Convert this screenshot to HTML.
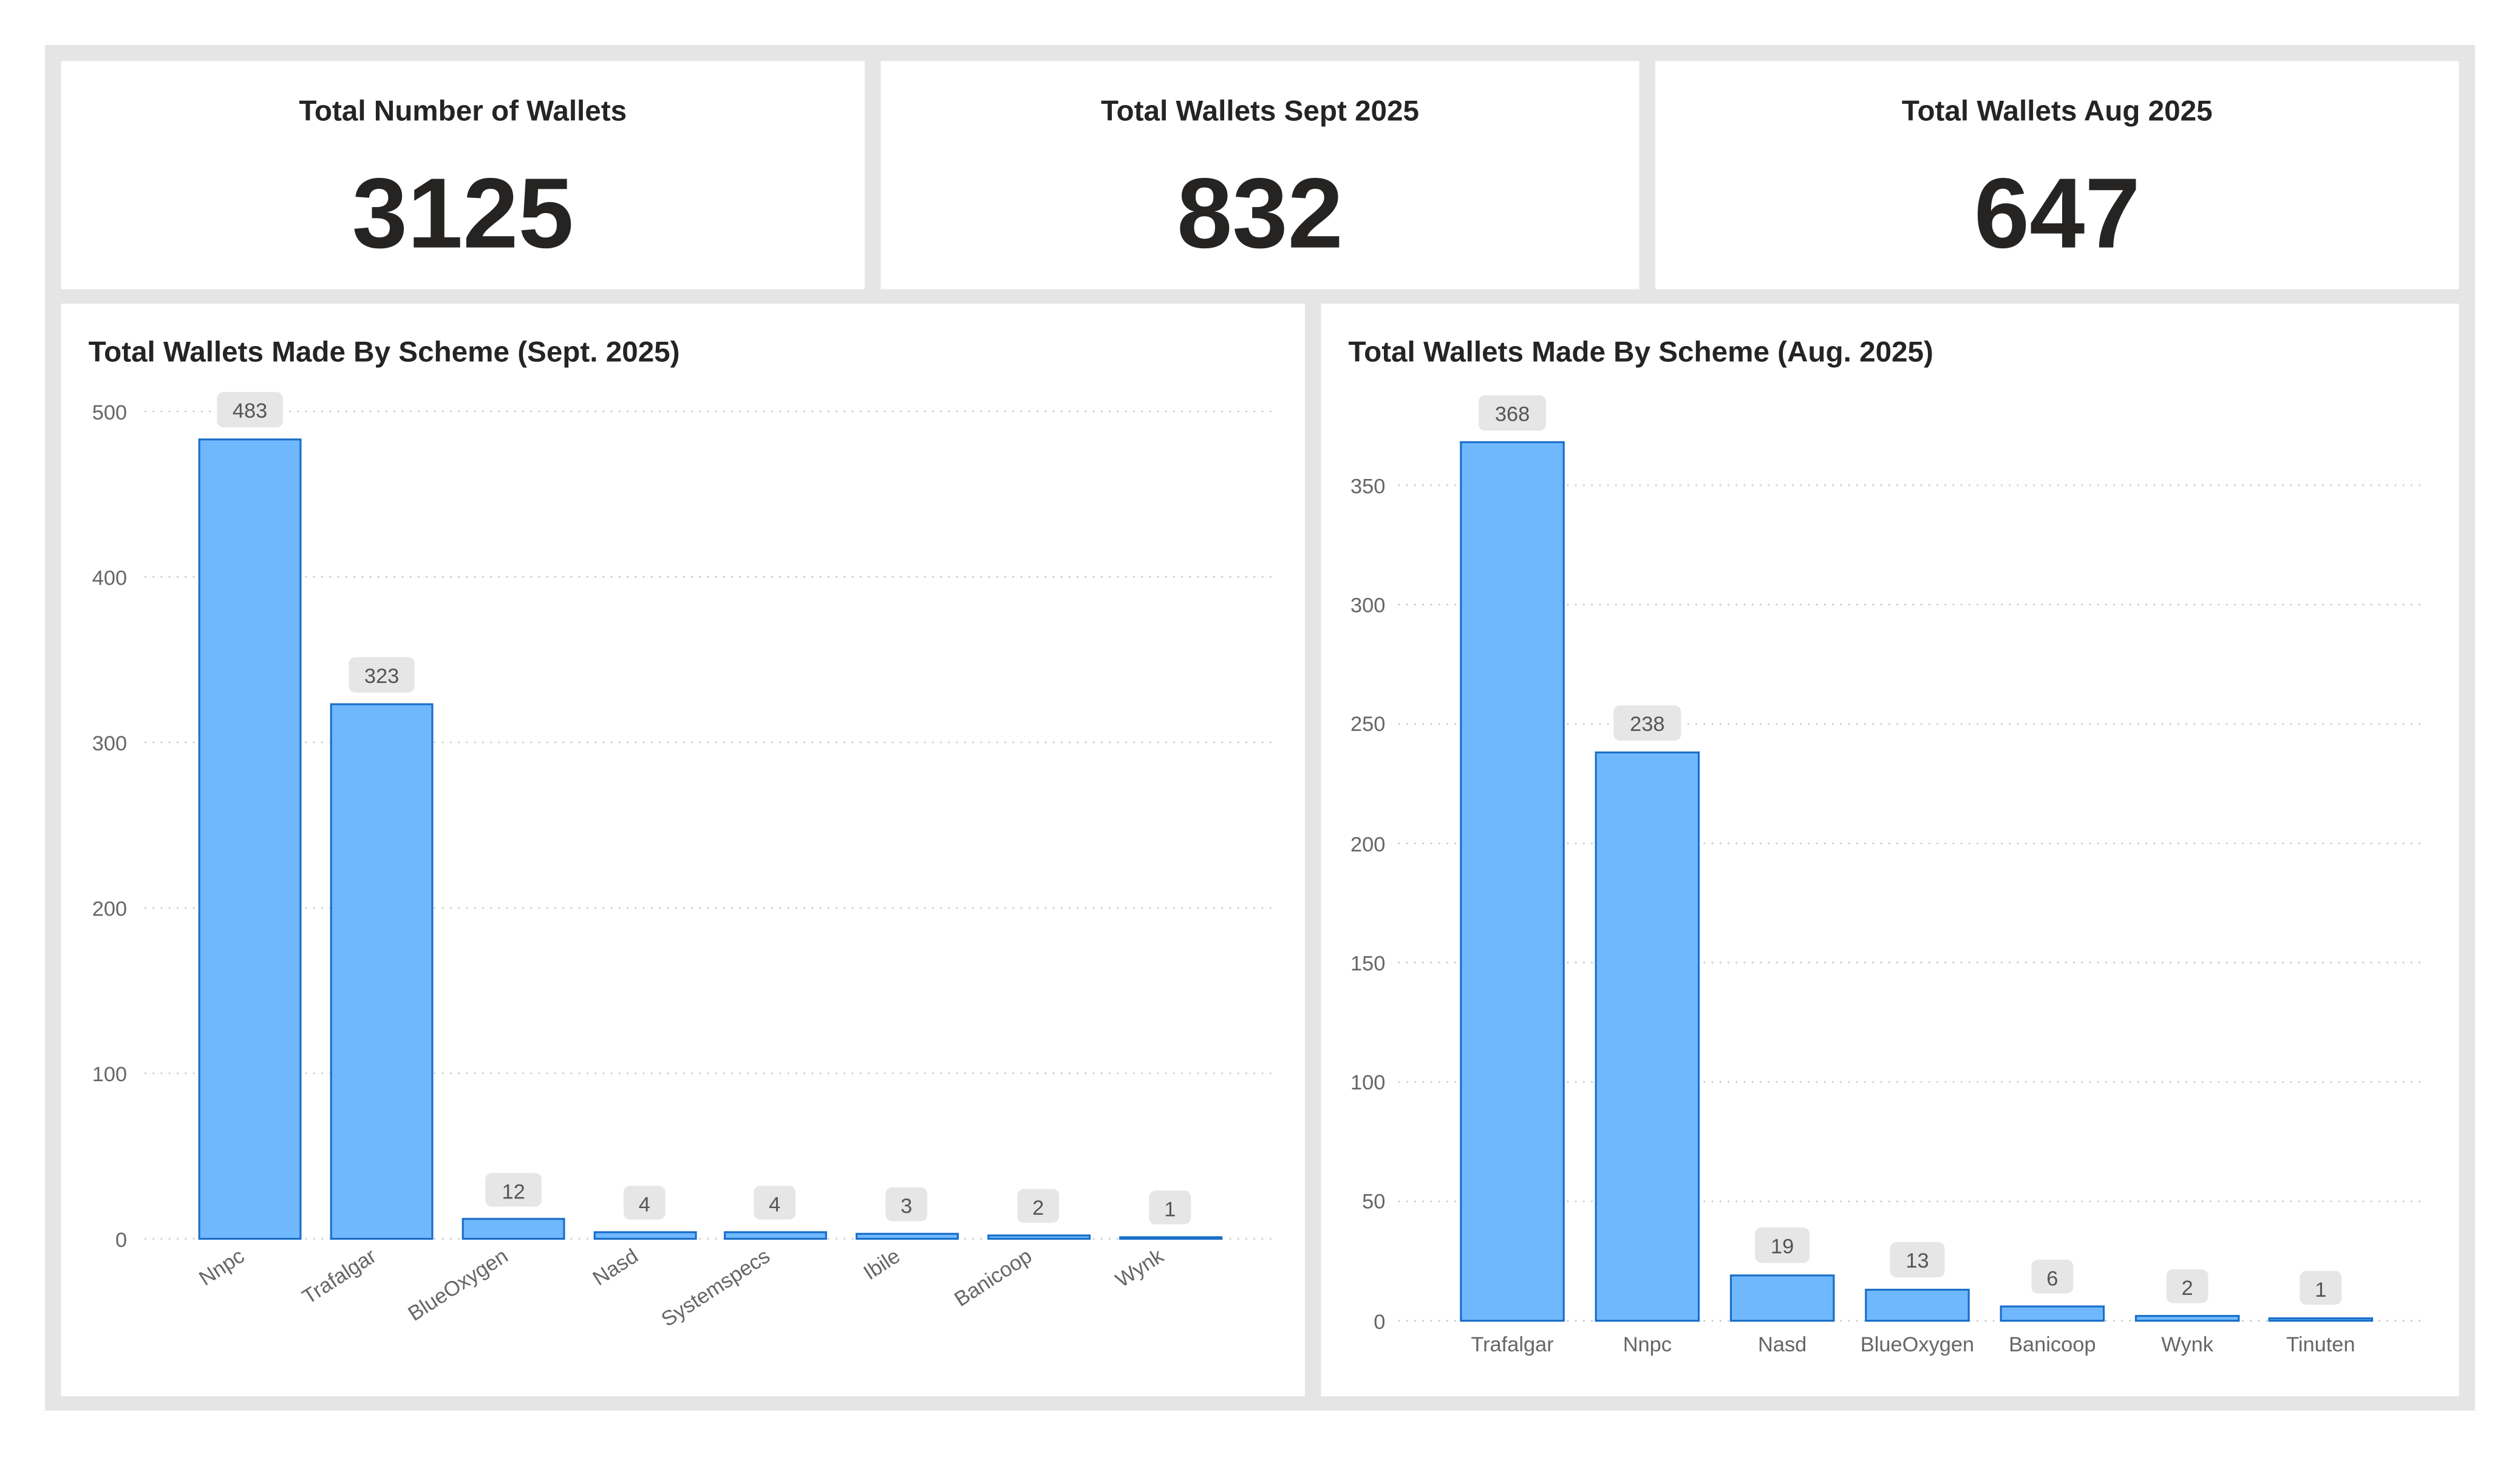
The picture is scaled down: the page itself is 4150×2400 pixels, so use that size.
<!DOCTYPE html>
<html><head><meta charset="utf-8"><style>
html,body{margin:0;padding:0;background:#fff;width:4150px;height:2400px;overflow:hidden}
svg{display:block}
text{font-family:"Liberation Sans",sans-serif}
</style></head><body>
<svg width="4150" height="2400" viewBox="0 0 1568 906.8" preserveAspectRatio="none" xmlns="http://www.w3.org/2000/svg">
<rect x="0" y="0" width="1568" height="907" fill="#fff"/>
<rect x="28" y="28" width="1512" height="850" fill="#e5e5e5"/>
<rect x="38" y="38" width="500" height="142" fill="#fff"/>
<rect x="548" y="38" width="472" height="142" fill="#fff"/>
<rect x="1030" y="38" width="500" height="142" fill="#fff"/>
<rect x="38" y="189" width="774" height="680" fill="#fff"/>
<rect x="822" y="189" width="708" height="680" fill="#fff"/>
<g fill="#252423" text-anchor="middle">
<text x="288" y="75" font-size="18" font-weight="bold">Total Number of Wallets</text>
<text x="784" y="75" font-size="18" font-weight="bold">Total Wallets Sept 2025</text>
<text x="1280" y="75" font-size="18" font-weight="bold">Total Wallets Aug 2025</text>
<text x="288" y="154" font-size="62" font-weight="bold">3125</text>
<text x="784" y="154" font-size="62" font-weight="bold">832</text>
<text x="1280" y="154" font-size="62" font-weight="bold">647</text>
</g>
<g fill="#252423" font-size="18" font-weight="bold">
<text x="55" y="225">Total Wallets Made By Scheme (Sept. 2025)</text>
<text x="839" y="225">Total Wallets Made By Scheme (Aug. 2025)</text>
</g>
<!-- left grid -->
<g stroke="#c8c8c8" stroke-width="1" stroke-dasharray="1,4">
<line x1="90" x2="795" y1="256" y2="256"/><line x1="90" x2="795" y1="359" y2="359"/>
<line x1="90" x2="795" y1="462" y2="462"/><line x1="90" x2="795" y1="565" y2="565"/>
<line x1="90" x2="795" y1="668" y2="668"/><line x1="90" x2="795" y1="771" y2="771"/>
</g>
<g fill="#666" font-size="13" text-anchor="end">
<text x="79" y="261">500</text><text x="79" y="364">400</text><text x="79" y="467">300</text>
<text x="79" y="570">200</text><text x="79" y="673">100</text><text x="79" y="776">0</text>
</g>
<g fill="#70b8fe" stroke="#1a6fc9" stroke-width="1.2">
<rect x="124" y="273.5" width="63" height="497.5"/>
<rect x="206" y="438.3" width="63" height="332.7"/>
<rect x="288" y="758.6" width="63" height="12.4"/>
<rect x="370" y="766.9" width="63" height="4.1"/>
<rect x="451" y="766.9" width="63" height="4.1"/>
<rect x="533" y="767.9" width="63" height="3.1"/>
<rect x="615" y="768.9" width="63" height="2.1"/>
<rect x="697" y="770" width="63" height="1"/>
</g>
<g fill="#e6e6e6">
<rect x="135" y="244" width="41" height="22" rx="4"/>
<rect x="217" y="409" width="41" height="22" rx="4"/>
<rect x="302" y="730" width="35" height="21" rx="4"/>
<rect x="388" y="738" width="26" height="21" rx="4"/>
<rect x="469" y="738" width="26" height="21" rx="4"/>
<rect x="551" y="739" width="26" height="21" rx="4"/>
<rect x="633" y="740" width="26" height="21" rx="4"/>
<rect x="715" y="741" width="26" height="21" rx="4"/>
</g>
<g fill="#555" font-size="13" text-anchor="middle">
<text x="155.5" y="260">483</text><text x="237.5" y="425">323</text><text x="319.5" y="746">12</text>
<text x="401" y="754">4</text><text x="482" y="754">4</text><text x="564" y="755">3</text>
<text x="646" y="756">2</text><text x="728" y="757">1</text>
</g>
<g fill="#666" font-size="13" text-anchor="end">
<text transform="translate(153,784) rotate(-33)">Nnpc</text>
<text transform="translate(235,784) rotate(-33)">Trafalgar</text>
<text transform="translate(317,784) rotate(-33)">BlueOxygen</text>
<text transform="translate(398,784) rotate(-33)">Nasd</text>
<text transform="translate(480,784) rotate(-33)">Systemspecs</text>
<text transform="translate(561,784) rotate(-33)">Ibile</text>
<text transform="translate(643,784) rotate(-33)">Banicoop</text>
<text transform="translate(725,784) rotate(-33)">Wynk</text>
</g>
<!-- right grid -->
<g stroke="#c8c8c8" stroke-width="1" stroke-dasharray="1,4">
<line x1="870" x2="1508" y1="302" y2="302"/><line x1="870" x2="1508" y1="376.3" y2="376.3"/>
<line x1="870" x2="1508" y1="450.6" y2="450.6"/><line x1="870" x2="1508" y1="524.9" y2="524.9"/>
<line x1="870" x2="1508" y1="599.1" y2="599.1"/><line x1="870" x2="1508" y1="673.4" y2="673.4"/>
<line x1="870" x2="1508" y1="747.7" y2="747.7"/><line x1="870" x2="1508" y1="822" y2="822"/>
</g>
<g fill="#666" font-size="13" text-anchor="end">
<text x="862" y="307">350</text><text x="862" y="381">300</text><text x="862" y="455">250</text>
<text x="862" y="530">200</text><text x="862" y="604">150</text><text x="862" y="678">100</text>
<text x="862" y="752">50</text><text x="862" y="827">0</text>
</g>
<g fill="#70b8fe" stroke="#1a6fc9" stroke-width="1.2">
<rect x="909" y="275.2" width="64" height="546.8"/>
<rect x="993" y="468.3" width="64" height="353.7"/>
<rect x="1077" y="793.8" width="64" height="28.2"/>
<rect x="1161" y="802.7" width="64" height="19.3"/>
<rect x="1245" y="813.1" width="64" height="8.9"/>
<rect x="1329" y="819" width="64" height="3"/>
<rect x="1412" y="820.5" width="64" height="1.5"/>
</g>
<g fill="#e6e6e6">
<rect x="920" y="246" width="42" height="22" rx="4"/>
<rect x="1004" y="439" width="42" height="22" rx="4"/>
<rect x="1092" y="764" width="34" height="22" rx="4"/>
<rect x="1176" y="773" width="34" height="22" rx="4"/>
<rect x="1264" y="784" width="26" height="21" rx="4"/>
<rect x="1348" y="790" width="26" height="21" rx="4"/>
<rect x="1431" y="791" width="26" height="21" rx="4"/>
</g>
<g fill="#555" font-size="13" text-anchor="middle">
<text x="941" y="262">368</text><text x="1025" y="455">238</text><text x="1109" y="780">19</text>
<text x="1193" y="789">13</text><text x="1277" y="800">6</text><text x="1361" y="806">2</text>
<text x="1444" y="807">1</text>
</g>
<g fill="#666" font-size="13" text-anchor="middle">
<text x="941" y="841">Trafalgar</text><text x="1025" y="841">Nnpc</text><text x="1109" y="841">Nasd</text>
<text x="1193" y="841">BlueOxygen</text><text x="1277" y="841">Banicoop</text><text x="1361" y="841">Wynk</text>
<text x="1444" y="841">Tinuten</text>
</g>
</svg>
</body></html>
